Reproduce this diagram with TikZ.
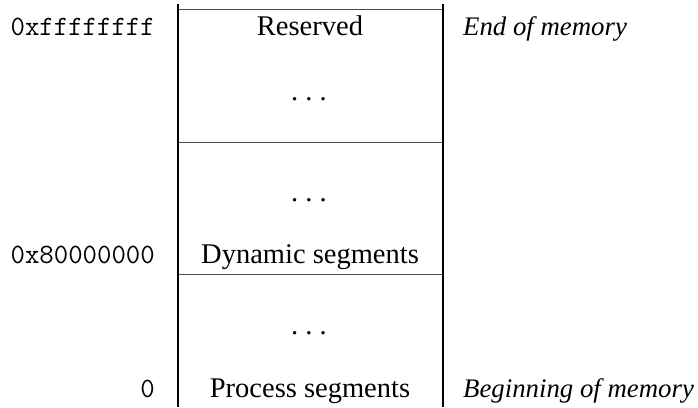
\documentclass[tikz,border=0pt]{standalone}
\usepackage{fontspec}
\setmainfont{Liberation Serif}
\begin{document}
\begin{tikzpicture}[x=1pt,y=-1pt,
  wall/.style={line width=1.5pt,black},
  divider/.style={line width=1pt,black!70},
  seg/.style={inner sep=0pt,anchor=base,font=\fontsize{28.5}{30}\selectfont},
  dots/.style={inner sep=0pt,anchor=base,font=\fontsize{28.5}{30}\selectfont},
  addr/.style={inner sep=0pt,anchor=base east,font=\fontsize{28}{30}\selectfont\ttfamily},
  note/.style={inner sep=0pt,anchor=base west,font=\fontsize{26.8}{28}\selectfont\itshape}]
\useasboundingbox (0,0) rectangle (698,407);
% frame coordinates
\coordinate (lt) at (178,4);
\coordinate (lb) at (178,407);
\coordinate (rt) at (443,4);
\coordinate (rb) at (443,407);
\coordinate (h1l) at (178,9);   \coordinate (h1r) at (443,9);
\coordinate (h2l) at (178,142); \coordinate (h2r) at (443,142);
\coordinate (h3l) at (178,274); \coordinate (h3r) at (443,274);
\draw[divider] (h1l) -- (h1r);
\draw[divider] (h2l) -- (h2r);
\draw[divider] (h3l) -- (h3r);
\draw[wall] (lt) -- (lb);
\draw[wall] (rt) -- (rb);
% segment texts
\node[seg] (reserved) at (310,35) {Reserved};
\node[dots] (d1) at (309,100) {.\ .\ .};
\node[dots] (d2) at (309,201) {.\ .\ .};
\node[dots] (d3) at (309,334) {.\ .\ .};
\node[seg] (dyn) at (310,263) {Dynamic segments};
\node[seg] (proc) at (310,397) {Process segments};
% addresses
\node[addr] (aff) at (155,35) {0xffffffff};
\node[addr] (a80) at (155,263) {0x80000000};
\node[addr] (a0) at (155,397) {0};
% notes
\node[note] (end) at (463,35) {End of memory};
\node[note] (beg) at (463,397) {Beginning of memory};
\end{tikzpicture}
\end{document}
